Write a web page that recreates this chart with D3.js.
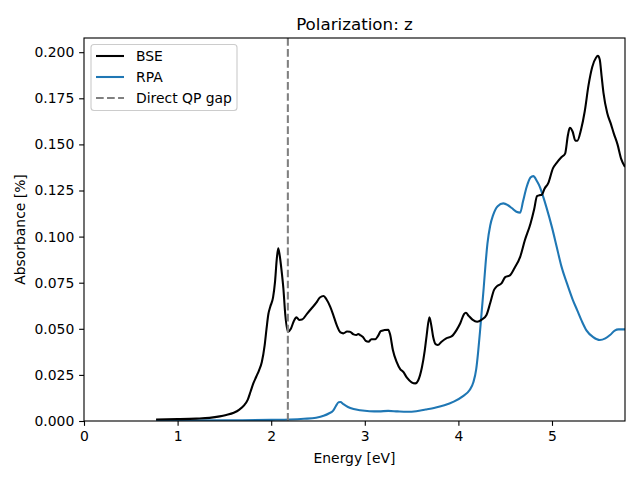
<!DOCTYPE html>
<html><head><meta charset="utf-8">
<script src="https://cdn.jsdelivr.net/npm/d3@7"></script>
<style>body{margin:0;background:#fff}svg{display:block;font-family:"DejaVu Sans",sans-serif}</style>
</head><body>
<script>
const bseE = [0.77,1.0,1.2,1.34,1.45,1.52,1.60,1.66,1.71,1.75,1.78,1.81,1.84,1.87,1.90,1.93,1.95,1.97,1.99,2.02,2.04,2.06,2.075,2.09,2.11,2.13,2.15,2.18,2.21,2.24,2.27,2.30,2.33,2.38,2.43,2.48,2.52,2.56,2.59,2.63,2.66,2.70,2.74,2.77,2.81,2.84,2.88,2.91,2.93,2.95,2.98,3.01,3.04,3.07,3.11,3.14,3.17,3.21,3.25,3.27,3.30,3.34,3.38,3.41,3.45,3.50,3.54,3.57,3.61,3.64,3.66,3.69,3.71,3.73,3.76,3.78,3.82,3.87,3.93,3.98,4.02,4.06,4.08,4.11,4.15,4.20,4.25,4.30,4.34,4.38,4.41,4.46,4.50,4.55,4.60,4.66,4.71,4.77,4.81,4.84,4.87,4.89,4.92,4.96,5.01,5.05,5.10,5.14,5.17,5.19,5.22,5.25,5.27,5.31,5.35,5.39,5.43,5.47,5.49,5.51,5.53,5.55,5.59,5.63,5.66,5.70,5.74,5.78];
const bseV = [0.0008,0.0010,0.0013,0.0017,0.0025,0.0033,0.0045,0.0062,0.0085,0.0116,0.016,0.0205,0.024,0.0275,0.032,0.041,0.050,0.058,0.062,0.067,0.075,0.088,0.0936,0.090,0.082,0.072,0.058,0.0484,0.050,0.054,0.0562,0.0548,0.055,0.058,0.061,0.064,0.067,0.0678,0.066,0.062,0.058,0.052,0.048,0.0475,0.0485,0.0484,0.047,0.0466,0.0472,0.0466,0.0455,0.0435,0.043,0.0443,0.0443,0.046,0.0487,0.0493,0.0495,0.047,0.0385,0.032,0.028,0.0267,0.0235,0.021,0.0204,0.022,0.029,0.038,0.046,0.0562,0.052,0.0457,0.0415,0.0412,0.043,0.0448,0.046,0.0493,0.053,0.058,0.0587,0.057,0.055,0.0538,0.055,0.0575,0.064,0.071,0.073,0.0746,0.078,0.079,0.083,0.089,0.098,0.107,0.115,0.122,0.1225,0.1226,0.126,0.129,0.137,0.140,0.143,0.145,0.155,0.159,0.157,0.152,0.152,0.158,0.168,0.182,0.192,0.197,0.198,0.196,0.187,0.178,0.167,0.161,0.156,0.150,0.142,0.1378];
const rpaE = [0.77,1.0,1.5,2.0,2.2,2.35,2.48,2.56,2.62,2.66,2.69,2.72,2.74,2.77,2.82,2.88,2.95,3.05,3.15,3.25,3.35,3.45,3.55,3.65,3.75,3.85,3.95,4.05,4.12,4.16,4.19,4.21,4.23,4.25,4.27,4.29,4.31,4.34,4.37,4.42,4.48,4.53,4.57,4.62,4.66,4.69,4.73,4.77,4.80,4.84,4.87,4.91,4.94,5.00,5.05,5.10,5.16,5.22,5.27,5.32,5.37,5.44,5.51,5.57,5.62,5.67,5.71,5.78];
const rpaV = [0.0002,0.0003,0.0004,0.0006,0.0008,0.0012,0.0018,0.0028,0.0042,0.0055,0.008,0.0102,0.0103,0.0092,0.0076,0.0065,0.0058,0.0053,0.0052,0.0055,0.0052,0.0050,0.0053,0.0062,0.0072,0.0085,0.0105,0.0135,0.0168,0.021,0.028,0.037,0.048,0.060,0.072,0.085,0.096,0.106,0.1115,0.1165,0.118,0.117,0.1155,0.1135,0.113,0.119,0.127,0.132,0.1328,0.130,0.127,0.121,0.116,0.105,0.0945,0.084,0.0746,0.066,0.060,0.054,0.049,0.0455,0.0439,0.0448,0.0466,0.049,0.0497,0.0497];
const qpGap = 2.178;
const xTicks = [0,1,2,3,4,5];
const yTicks = [0,0.025,0.05,0.075,0.1,0.125,0.15,0.175,0.2];
const seriesNames = ["BSE","RPA","Direct QP gap"];

const W=640,H=480, L=84, R=625, T=38, B=421;
const LW=2.08, DASH="7.7,3.33";
const svg=d3.select("body").append("svg").attr("width",W).attr("height",H);
const x=d3.scaleLinear().domain([0,5.78]).range([L,R]);
const y=d3.scaleLinear().domain([0,0.2077]).range([B,T]);

svg.append("clipPath").attr("id","c").append("rect").attr("x",L).attr("y",T).attr("width",R-L).attr("height",B-T);
const g=svg.append("g").attr("clip-path","url(#c)");
const line=d3.line().x(d=>x(d[0])).y(d=>y(d[1])).curve(d3.curveMonotoneX);
g.append("path").datum(rpaE.map((e,i)=>[e,rpaV[i]])).attr("d",line).attr("fill","none").attr("stroke","#1f77b4").attr("stroke-width",LW).attr("stroke-linejoin","round");
g.append("path").datum(bseE.map((e,i)=>[e,bseV[i]])).attr("d",line).attr("fill","none").attr("stroke","#000").attr("stroke-width",LW).attr("stroke-linejoin","round");
g.append("line").attr("x1",x(qpGap)).attr("x2",x(qpGap)).attr("y1",T).attr("y2",B).attr("stroke","#808080").attr("stroke-width",LW).attr("stroke-dasharray",DASH);

const xa=svg.append("g").attr("transform",`translate(0,${B})`).call(d3.axisBottom(x).tickValues(xTicks).tickFormat(d3.format("d")).tickSize(4.86).tickPadding(4.9));
const ya=svg.append("g").attr("transform",`translate(${L},0)`).call(d3.axisLeft(y).tickValues(yTicks).tickFormat(d3.format(".3f")).tickSize(4.86).tickPadding(4.9));
[xa,ya].forEach(a=>{a.select(".domain").remove();a.selectAll("text").attr("font-size",13.9).attr("font-family","DejaVu Sans").attr("fill","#000");a.selectAll("line").attr("stroke","#000").attr("stroke-width",1.11);});
svg.append("rect").attr("x",L).attr("y",T).attr("width",R-L).attr("height",B-T).attr("fill","none").attr("stroke","#000").attr("stroke-width",1.11);

svg.append("text").attr("x",(L+R)/2).attr("y",T-8).attr("text-anchor","middle").attr("font-size",16.7).text("Polarization: z");
svg.append("text").attr("x",(L+R)/2).attr("y",463).attr("text-anchor","middle").attr("font-size",13.9).text("Energy [eV]");
svg.append("text").attr("transform",`translate(25,${(T+B)/2}) rotate(-90)`).attr("text-anchor","middle").attr("font-size",13.9).text("Absorbance [%]");

const lg=svg.append("g");
lg.append("rect").attr("x",91).attr("y",44.5).attr("width",146).attr("height",66).attr("rx",3).attr("fill","#fff").attr("fill-opacity",0.8).attr("stroke","#cccccc").attr("stroke-width",1.11);
const styles=[{c:"#000",d:null},{c:"#1f77b4",d:null},{c:"#808080",d:DASH}];
seriesNames.forEach((n,i)=>{
  const yy=56+i*21;
  const l=lg.append("line").attr("x1",96).attr("x2",124).attr("y1",yy).attr("y2",yy).attr("stroke",styles[i].c).attr("stroke-width",LW);
  if(styles[i].d) l.attr("stroke-dasharray",styles[i].d);
  lg.append("text").attr("x",136).attr("y",yy+5).attr("font-size",13.9).text(n);
});
</script>
</body></html>
